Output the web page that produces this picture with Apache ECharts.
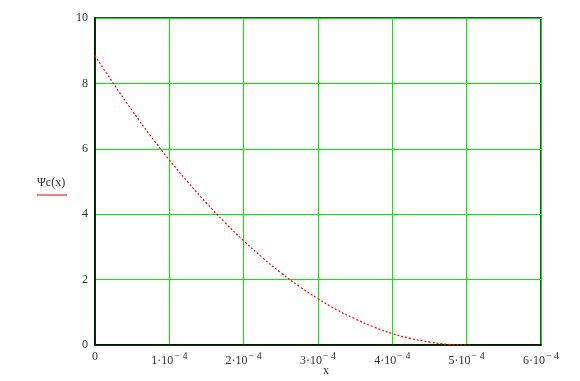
<!DOCTYPE html>
<html>
<head>
<meta charset="utf-8">
<script src="https://cdn.jsdelivr.net/npm/echarts@6/dist/echarts.min.js"></script>
<style>html,body{margin:0;padding:0;background:#fff}#c{width:580px;height:381px}</style>
</head>
<body>
<div id="c"></div>
<script>
// x values (m)
var xValues = [0, 0.25e-4, 0.5e-4, 0.75e-4, 1.0e-4, 1.25e-4, 1.5e-4, 1.75e-4, 2.0e-4, 2.25e-4, 2.5e-4,
  2.75e-4, 3.0e-4, 3.25e-4, 3.5e-4, 3.75e-4, 4.0e-4, 4.25e-4, 4.5e-4, 4.75e-4, 5.0e-4, 5.07e-4];
// Ψc(x) values
var psiValues = [8.85, 7.99, 7.17, 6.39, 5.66, 4.98, 4.34, 3.74, 3.19, 2.68, 2.21,
  1.79, 1.42, 1.08, 0.80, 0.55, 0.35, 0.20, 0.09, 0.02, 0.0, 0.0];
// tick labels
var xTickMantissa = ['0', '1', '2', '3', '4', '5', '6'];
var yTicks = [0, 2, 4, 6, 8, 10];
var xAxisTitle = 'x';
var yAxisTitle = '\u03a8c(x)';

var chart = echarts.init(document.getElementById('c'), null, {renderer: 'canvas'});
var font = '"Liberation Serif", "Times New Roman", serif';
var data = xValues.map(function (x, i) { return [x, psiValues[i]]; });

chart.setOption({
  animation: false,
  grid: {left: 95, right: 39, top: 18, bottom: 36, show: true, borderColor: '#000', borderWidth: 1.5,
    backgroundColor: 'transparent', containLabel: false, outerBoundsMode: 'none'},
  xAxis: {
    type: 'value', min: 0, max: 6e-4, interval: 1e-4,
    axisLine: {show: true, lineStyle: {color: '#000', width: 1.5}},
    axisTick: {show: false},
    splitLine: {show: true, lineStyle: {color: '#00ee00', width: 1}},
    axisLabel: {
      margin: 6,
      fontFamily: font, fontSize: 12, color: '#333',
      formatter: function (v) {
        var k = Math.round(v / 1e-4);
        if (k === 0) return '{b|0}';
        return '{b|' + xTickMantissa[k] + '\u00b710}{s|\u2212 4}';
      },
      rich: {
        b: {fontFamily: font, fontSize: 12, color: '#333'},
        s: {fontFamily: font, fontSize: 10, color: '#333', padding: [0, 0, 10, 1]}
      }
    }
  },
  yAxis: {
    type: 'value', min: 0, max: 10, interval: 2,
    axisLine: {show: true, lineStyle: {color: '#000', width: 1.5}},
    axisTick: {show: false},
    splitLine: {show: true, lineStyle: {color: '#00ee00', width: 1}},
    axisLabel: {
      margin: 7, fontFamily: font, fontSize: 12, color: '#333',
      formatter: function (v) { return yTicks.indexOf(v) >= 0 ? String(v) : ''; }
    }
  },
  graphic: [
    {type: 'text', left: 37, top: 177, style: {text: yAxisTitle, font: '12px ' + font, fill: '#333'}},
    {type: 'line', shape: {x1: 37, y1: 195, x2: 67, y2: 195}, style: {stroke: '#e00000', lineWidth: 1}},
    {type: 'text', left: 323, top: 365, style: {text: xAxisTitle, font: '12px ' + font, fill: '#333'}}
  ],
  series: [{
    type: 'line', data: data, showSymbol: false, smooth: true,
    lineStyle: {color: '#ff0000', width: 1.2, type: [2, 2]}
  }]
});
</script>
</body>
</html>
